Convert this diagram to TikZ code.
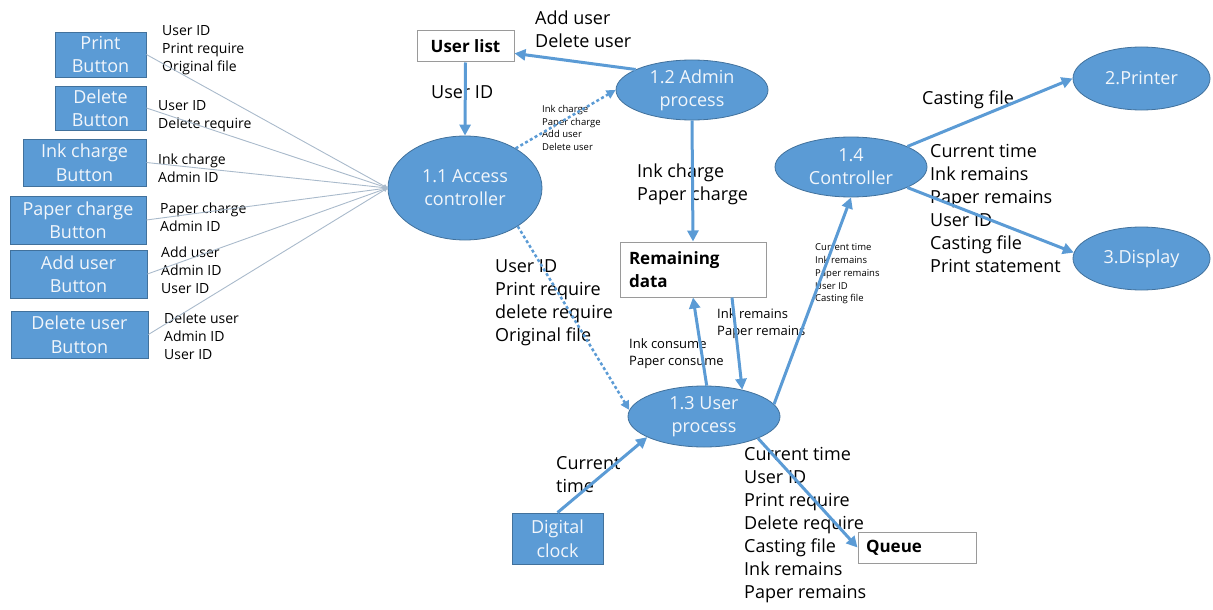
\documentclass[tikz,border=0pt]{standalone}
\usepackage{fontspec}
\setmainfont{Open Sans}
\usetikzlibrary{shapes.geometric,arrows.meta,calc}
\definecolor{nb}{HTML}{5B9BD5}
\definecolor{nbd}{HTML}{41719C}
\definecolor{ntxt}{HTML}{F2F6FB}
\definecolor{thinc}{HTML}{A9BACB}
\definecolor{boxd}{HTML}{9A9A9A}
\begin{document}
\begin{tikzpicture}[x=1pt,y=-1pt,
 proc/.style={ellipse,draw=nbd,line width=0.8pt,fill=nb,text=ntxt,inner sep=-8pt,align=center,font=\fontsize{18}{23}\selectfont},
 btn/.style={rectangle,draw=nbd,line width=0.8pt,fill=nb,text=ntxt,inner sep=0pt,align=center,font=\fontsize{18}{23.5}\selectfont},
 store/.style={rectangle,draw=boxd,line width=1pt,fill=white,inner ysep=0pt,font=\fontsize{17}{23}\selectfont\bfseries},
 flow/.style={draw=nb,line width=3pt,-{Triangle[length=11pt,width=11pt]}},
 dflow/.style={draw=nb,line width=2.5pt,dash pattern=on 3pt off 2.5pt,-{Triangle[length=9pt,width=9pt]}},
 inflow/.style={draw=thinc,line width=0.9pt,-{Triangle[length=4pt,width=4pt]}},
 lbl/.style={anchor=west,inner sep=0pt,align=left,font=\fontsize{18}{23}\selectfont},
 slbl/.style={anchor=west,inner sep=0pt,align=left,font=\fontsize{14}{18}\selectfont},
 mlbl/.style={anchor=west,inner sep=0pt,align=left,font=\fontsize{13}{17}\selectfont},
 tlbl/.style={anchor=west,inner sep=0pt,align=left,font=\fontsize{9.5}{12.8}\selectfont}
]
\useasboundingbox (0,0) rectangle (1213,610);

% buttons
\node[btn,minimum width=91pt,minimum height=45pt] (pb) at (100.5,54.5) {Print\\Button};
\node[btn,minimum width=91pt,minimum height=44pt] (db) at (100.5,108) {Delete\\Button};
\node[btn,minimum width=123pt,minimum height=47pt] (ib) at (84.5,162.5) {Ink charge\\Button};
\node[btn,minimum width=136pt,minimum height=48pt] (ppb) at (78,220) {Paper charge\\Button};
\node[btn,minimum width=137pt,minimum height=48pt] (ab) at (78.5,274) {Add user\\Button};
\node[btn,minimum width=137pt,minimum height=47pt] (dub) at (79.5,334.5) {Delete user\\Button};
\node[btn,minimum width=91pt,minimum height=51pt] (clk) at (557.5,538.5) {Digital\\clock};

% processes
\node[proc,minimum width=154pt,minimum height=104pt] (acc) at (465,188) {1.1 Access\\controller};
\node[proc,minimum width=152pt,minimum height=60pt] (adm) at (692,90) {1.2 Admin\\process};
\node[proc,minimum width=152pt,minimum height=61pt] (uproc) at (704,416.5) {1.3 User\\process};
\node[proc,minimum width=152pt,minimum height=60pt] (ctrl) at (851,167) {1.4\\Controller};
\node[proc,minimum width=137pt,minimum height=63pt] (prt) at (1141.5,78.5) {2.Printer};
\node[proc,minimum width=137pt,minimum height=63pt] (dsp) at (1141.5,258.5) {3.Display};

% stores
\node[store,minimum width=97pt,minimum height=31pt,inner xsep=0pt] (ul) at (465.5,46.5) {User list};
\node[store,text width=128pt,inner xsep=9pt,minimum height=55pt,align=left] (rem) at (693,269.5) {Remaining\\data};
\node[store,text width=102pt,inner xsep=8pt,minimum height=31pt,align=left] (que) at (917,547.5) {Queue};

% labels
\node[slbl] (lpb) at (162,50) {User ID\\Print require\\Original file};
\node[slbl] (ldb) at (158,116.5) {User ID\\Delete require};
\node[slbl] (lib) at (158,168) {Ink charge\\Admin ID};
\node[slbl] (lppb) at (160,217) {Paper charge\\Admin ID};
\node[slbl] (lab) at (161,270) {Add user\\Admin ID\\User ID};
\node[slbl] (ldub) at (164,336) {Delete user\\Admin ID\\User ID};

\node[lbl] (l1) at (535,29.5) {Add user\\Delete user};
\node[lbl] (l2) at (431,92) {User ID};
\node[tlbl] (l3) at (542,128) {Ink charge\\Paper charge\\Add user\\Delete user};
\node[lbl] (l4) at (637,184) {Ink charge\\Paper charge};
\node[lbl] (l5) at (495,303) {User ID\\Print require\\delete require\\Original file};
\node[mlbl] (l6) at (629,353.5) {Ink consume\\Paper consume};
\node[mlbl] (l7) at (717,324) {Ink remains\\Paper remains};
\node[tlbl] (l8) at (815,274) {Current time\\Ink remains\\Paper remains\\User ID\\Casting file};
\node[lbl] (l9) at (922,100) {Casting file};
\node[lbl] (l10) at (930,208.5) {Current time\\Ink remains\\Paper remains\\User ID\\Casting file\\Print statement};
\node[lbl] (l11) at (556,475) {Current\\time};
\node[lbl] (l12) at (744,525) {Current time\\User ID\\Print require\\Delete require\\Casting file\\Ink remains\\Paper remains};

% thin input lines
\foreach \b in {pb,db,ib,ppb,ab,dub} \draw[inflow] (\b.east) -- (acc.west);

% flows
\draw[flow] (ul.south) -- (acc.north);
\draw[flow] (adm.160) -- (ul.-8);
\draw[dflow] (acc.38) -- (adm.west);
\draw[flow] (adm.south) -- (rem.north);
\draw[dflow] (acc.-36) -- (uproc.175);
\draw[flow] (uproc.85) -- (rem.south);
\draw[flow] ($(rem.south)+(39,0)$) -- (uproc.35);
\draw[flow] (uproc.10) -- (ctrl.south);
\draw[flow] (ctrl.20) -- (prt.west);
\draw[flow] (ctrl.-20) -- (dsp.175);
\draw[flow] (clk.north) -- (uproc.-160);
\draw[flow] (uproc.-22) -- (que.west);
\end{tikzpicture}
\end{document}
